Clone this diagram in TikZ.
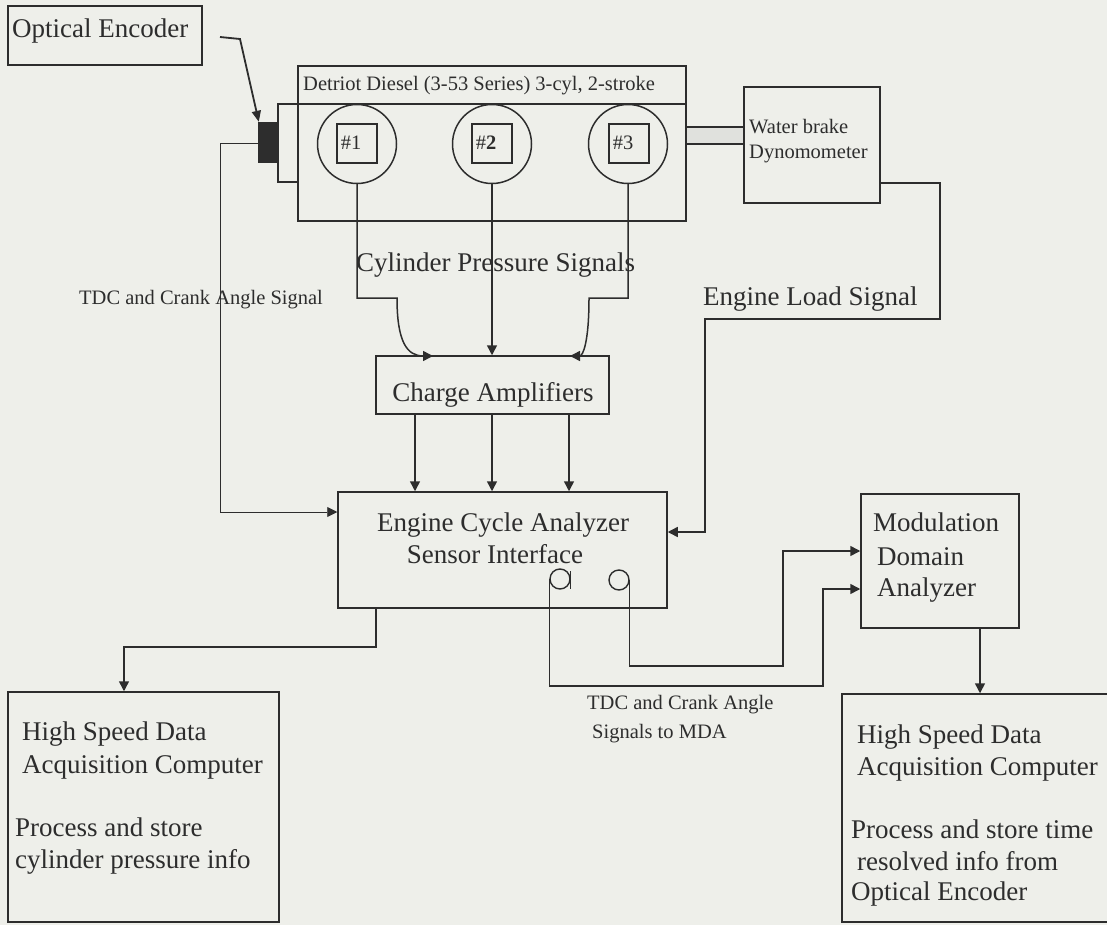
\documentclass[tikz,border=0pt]{standalone}
\usepackage{fontspec}
\setmainfont{Liberation Serif}
\usetikzlibrary{arrows.meta,fit,calc}
\definecolor{bg}{RGB}{238,239,234}
\definecolor{ink}{RGB}{45,45,45}
\definecolor{shaft}{RGB}{224,225,221}
\begin{document}
\begin{tikzpicture}[x=1pt,y=-1pt,
  box/.style={draw=ink,line width=1.5pt,inner sep=0pt},
  big/.style={font=\fontsize{27}{33}\selectfont,text=ink,inner sep=0pt,anchor=west,text height=20pt,text depth=4pt},
  small/.style={font=\fontsize{20.5}{25}\selectfont,text=ink,inner sep=0pt,anchor=west,text height=15pt,text depth=3pt},
  wire/.style={draw=ink,line width=1.5pt},
  arr/.style={wire,-{Triangle[length=10pt,width=10pt]}},
  thinwire/.style={draw=ink,line width=0.9pt,-{Triangle[length=10pt,width=10pt]}},
  cyl/.style={circle,draw=ink,line width=1.5pt,minimum size=79pt,inner sep=0pt},
  sq/.style={draw=ink,line width=1.5pt,minimum width=40pt,minimum height=39pt,inner sep=0pt},
  port/.style={circle,draw=ink,line width=1.4pt,minimum size=20pt,inner sep=0pt}
]
\fill[bg] (0,0) rectangle (1107,925);
\useasboundingbox (0,0) rectangle (1107,925);

% Optical encoder
\node[box,fit={(8,6) (202,65)}] (oe) {};
\node[big] (oet) at (12,30) {Optical Encoder};

% Engine
\node[box,fit={(278,104) (298,182)}] (flange) {};
\node[box,fit={(298,66) (686,221)}] (eng) {};
\coordinate (tsep) at (0,104);
\draw[wire] (eng.west |- tsep) -- (eng.east |- tsep);
\node[small] (title) at (303,85) {Detriot Diesel (3-53 Series) 3-cyl, 2-stroke};
\node[fill=ink,inner sep=0pt,fit={(258,122) (278,163)}] (enc) {};

\node[cyl] (c1) at (357,144) {};
\node[cyl] (c2) at (492,144) {};
\node[cyl] (c3) at (628,144) {};
\node[sq] (s1) at (357,143.5) {};
\node[sq] (s2) at (492,143.5) {};
\node[sq] (s3) at (629,143.5) {};
\node[small] (t1) at ($(s1.west)+(4.5,0)$) {\#1};
\node[small] (t2) at ($(s2.west)+(4.5,0)$) {\#\textbf{2}};
\node[small] (t3) at ($(s3.west)+(4.5,0)$) {\#3};

% Dynamometer
\node[box,fit={(744,87) (880,203)}] (dyno) {};
\node[small] (dyt1) at (749,128) {Water brake};
\node[small] (dyt2) at (749,153) {Dynomometer};
\coordinate (sh1) at (0,127);
\coordinate (sh2) at (0,144);
\fill[shaft] (eng.east |- sh1) rectangle (dyno.west |- sh2);
\draw[wire] (eng.east |- sh1) -- (dyno.west |- sh1);
\draw[wire] (eng.east |- sh2) -- (dyno.west |- sh2);

% Optical encoder pointer
\coordinate (oep0) at (220,37);
\coordinate (oep1) at (240,39);
\draw[wire,line width=1.8pt,-{Triangle[length=11pt,width=9pt]}] (oep0) -- (oep1) -- ($(enc.north west)+(1,0)$);

% Charge amplifiers
\node[box,fit={(376,356) (609,414)}] (ca) {};
\node[big,anchor=center] (cat) at (493,393) {Charge Amplifiers};
\node[big] (cps) at (356,263) {Cylinder Pressure Signals};

\coordinate (m1) at (397,298);
\coordinate (m3) at (589,298);
\draw[arr] (c1.south) |- (m1) .. controls (397,342) and (407,356) .. (433,356);
\draw[arr] (c2.south) -- (c2.south |- ca.north);
\draw[arr] (c3.south) |- (m3) .. controls (589,342) and (583,356) .. (570,356);

% Engine cycle analyzer
\node[box,fit={(338,492) (667,608)}] (eca) {};
\node[big,anchor=center] (ecat1) at (503,523) {Engine Cycle Analyzer};
\node[big,anchor=center] (ecat2) at (495,555) {Sensor Interface};
\draw[arr] (ca.south -| 415,0) -- (eca.north -| 415,0);
\draw[arr] (ca.south -| 492,0) -- (eca.north -| 492,0);
\draw[arr] (ca.south -| 569,0) -- (eca.north -| 569,0);

\node[port] (lp) at (560,579) {};
\draw[draw=ink,line width=1.4pt] ($(lp.east)+(0,-8)$) -- ($(lp.east)+(0,10)$);
\node[port] (rp) at (619,580) {};

% TDC line
\coordinate (tdc0) at (220,143);
\coordinate (tdc1) at (220,512);
\draw[thinwire] (enc.west |- tdc0) -- (tdc0) -- (tdc1) -- (tdc1 -| eca.west);
\node[small] (tdcl) at (79,298) {TDC and Crank Angle Signal};

% Engine load signal
\coordinate (l0) at ($(dyno.north east)+(0,97)$);
\coordinate (l1) at (940,319);
\coordinate (l2) at (705,532);
\draw[arr] (l0) -| (l1) -| (l2) -- (l2 -| eca.east);
\node[big] (els) at (703,297) {Engine Load Signal};

% Modulation domain analyzer
\node[box,fit={(861,494) (1019,628)}] (mda) {};
\node[big] (mdat1) at (873,523) {Modulation};
\node[big] (mdat2) at (877,557) {Domain};
\node[big] (mdat3) at (877,588) {Analyzer};

\coordinate (j1) at (823,686);
\coordinate (j2) at (823,589);
\draw[arr] (lp.west) |- (j1) -- (j2) -- (j2 -| mda.west);
\coordinate (k1) at (783,666);
\coordinate (k2) at (783,551);
\draw[arr] (rp.east) |- (k1) -- (k2) -- (k2 -| mda.west);
\node[small] (sig1) at (587,703) {TDC and Crank Angle};
\node[small] (sig2) at (592,732) {Signals to MDA};

% Left HSDA
\node[box,fit={(8,692) (279,922)}] (hl) {};
\node[big] (hl1) at (22,732) {High Speed Data};
\node[big] (hl2) at (22,765) {Acquisition Computer};
\node[big] (hl3) at (15,828) {Process and store};
\node[big] (hl4) at (15,860) {cylinder pressure info};
\coordinate (e1) at (376,647);
\draw[arr] (eca.south -| e1) -- (e1) -| (hl.north -| 124,0);

% Right HSDA
\node[box,fit={(842,694) (1118,922)}] (hr) {};
\node[big] (hr1) at (857,735) {High Speed Data};
\node[big] (hr2) at (857,767) {Acquisition Computer};
\node[big] (hr3) at (851,830) {Process and store time};
\node[big] (hr4) at (857,862) {resolved info from};
\node[big] (hr5) at (851,892) {Optical Encoder};
\draw[arr] (mda.south -| 980,0) -- (hr.north -| 980,0);
\end{tikzpicture}
\end{document}
